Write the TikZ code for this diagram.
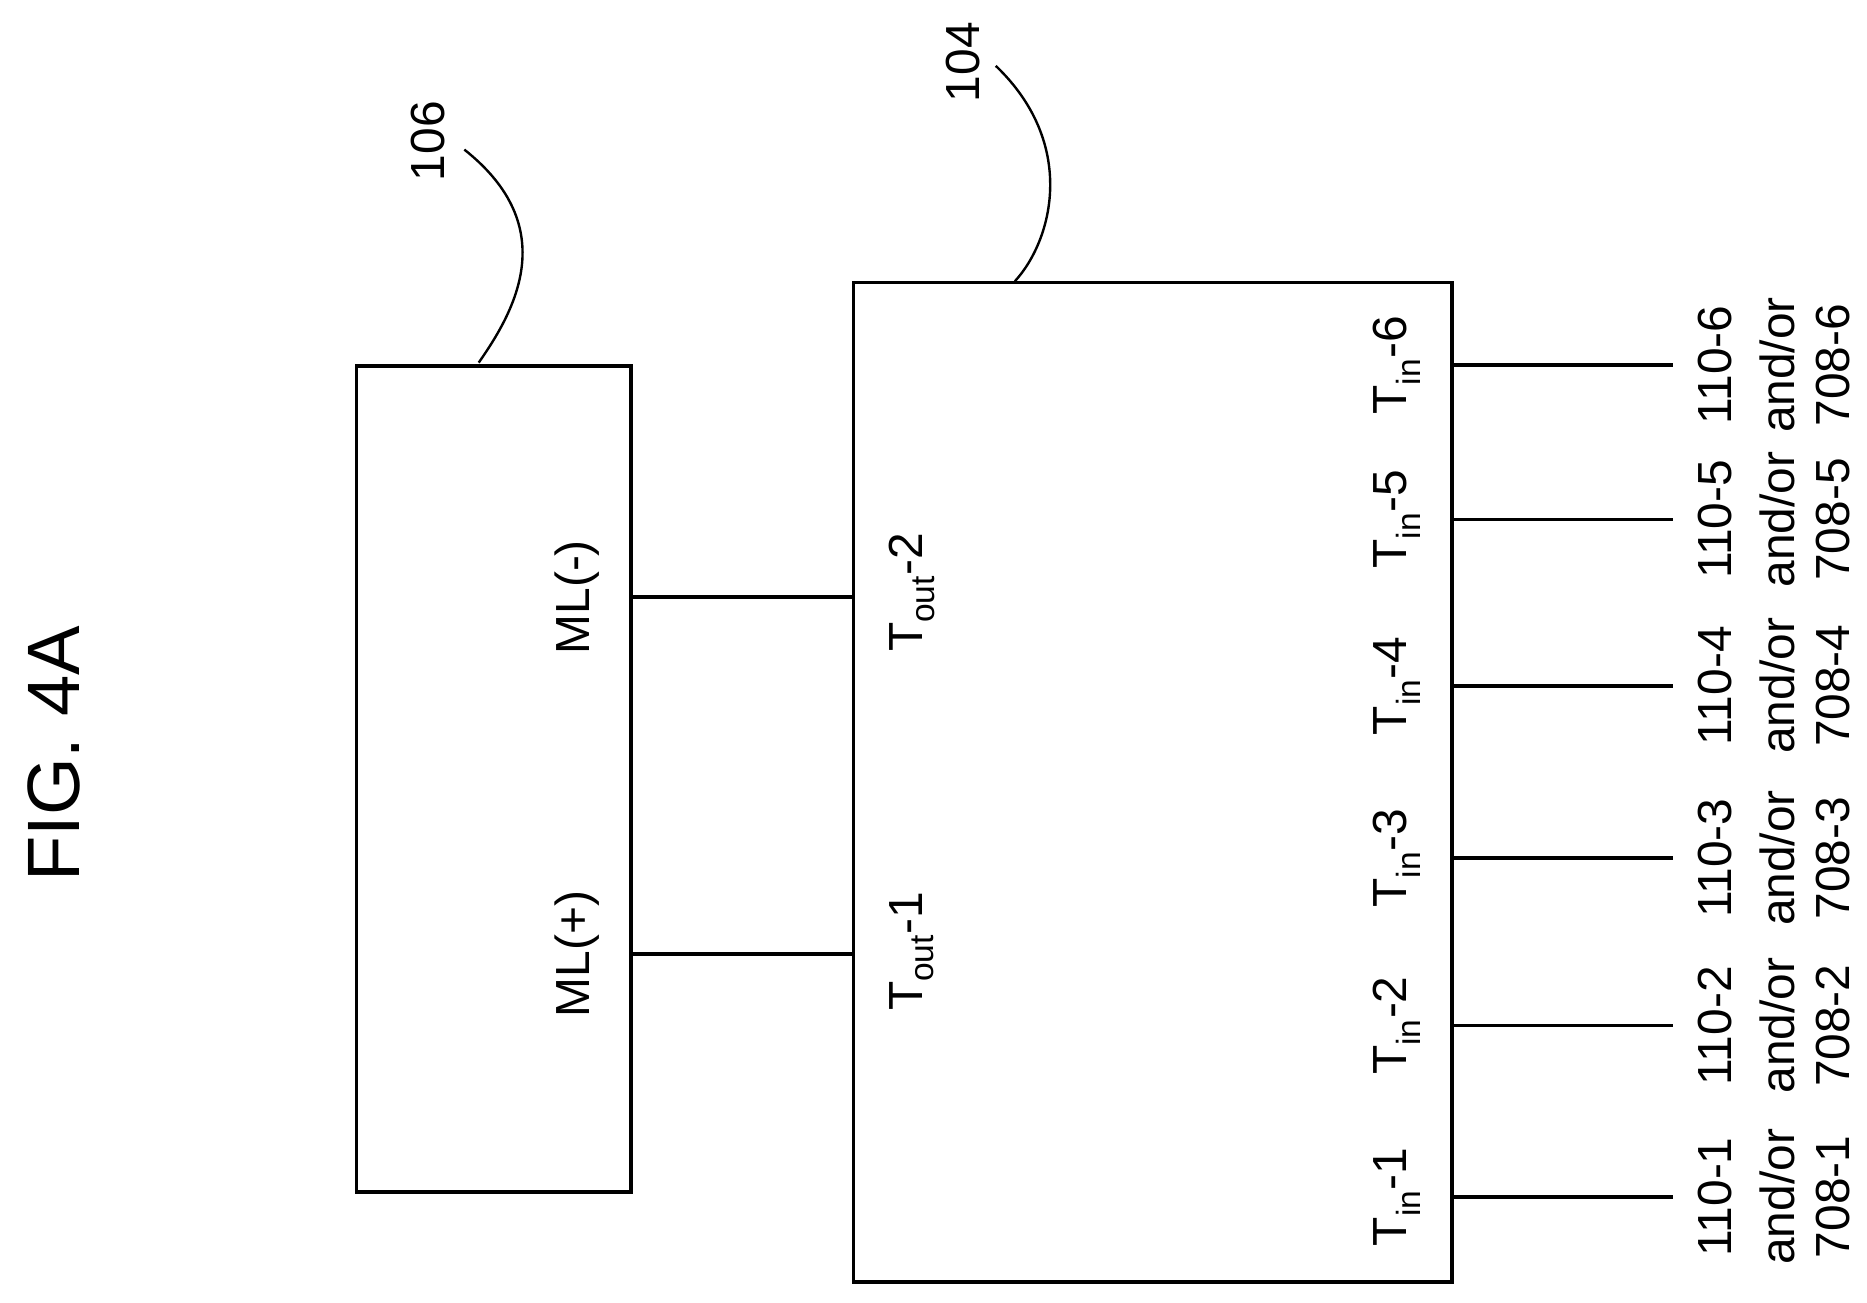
\documentclass[tikz,border=0pt]{standalone}
\usepackage{fontspec}
\setmainfont{Liberation Sans}
\begin{document}
\begin{tikzpicture}[x=1pt,y=-1pt,line width=3pt,
  lab/.style={rotate=90,font=\fontsize{40}{46}\selectfont,inner sep=0pt},
  box/.style={draw,line width=3pt,inner sep=0pt,outer sep=0pt}]
\useasboundingbox (0,0) rectangle (1560,1088);
\node[box,minimum width=229pt,minimum height=690pt,anchor=north west] (b106) at (298,306) {};
\node[box,minimum width=500pt,minimum height=835pt,anchor=north west] (b104) at (713,236) {};
\node[rotate=90,font=\fontsize{62}{70}\selectfont,inner sep=0pt] (fig) at (45,630) {FIG. 4A};
\node[lab] (l106) at (358,118) {106};
\node[lab] (l104) at (805,52) {104};
\coordinate (c106) at (388,125);
\coordinate (c104) at (832,55);
\draw[line width=2pt] (c106) .. controls (470,190) and (430,260) .. (400,303);
\draw[line width=2pt] (c104) .. controls (900,120) and (880,200) .. (848,235);
\coordinate (mp) at (712,797); \coordinate (mm) at (712,499);
\draw (529,797) -- (mp);
\draw (529,499) -- (mm);
\node[lab] (mlp) at (482,797) {ML(+)};
\node[lab] (mlm) at (482,499) {ML(-)};
\node[lab] (to1) at (762,795) {T\textsubscript{out}-1};
\node[lab] (to2) at (762,495) {T\textsubscript{out}-2};
\foreach \k/\y in {1/1000,2/857,3/717,4/573,5/434,6/305}{
  \coordinate (e\k) at (1398,\y);
  \draw (1215,\y) -- (e\k);
  \node[lab] (ti\k) at (1167,\y) {T\textsubscript{in}-\k};
  \node[lab] (a\k) at (1433,\y) {110-\k};
  \node[lab] (b\k) at (1485,\y) {and/or};
  \node[lab] (c\k) at (1532,\y) {708-\k};
}
\end{tikzpicture}
\end{document}
